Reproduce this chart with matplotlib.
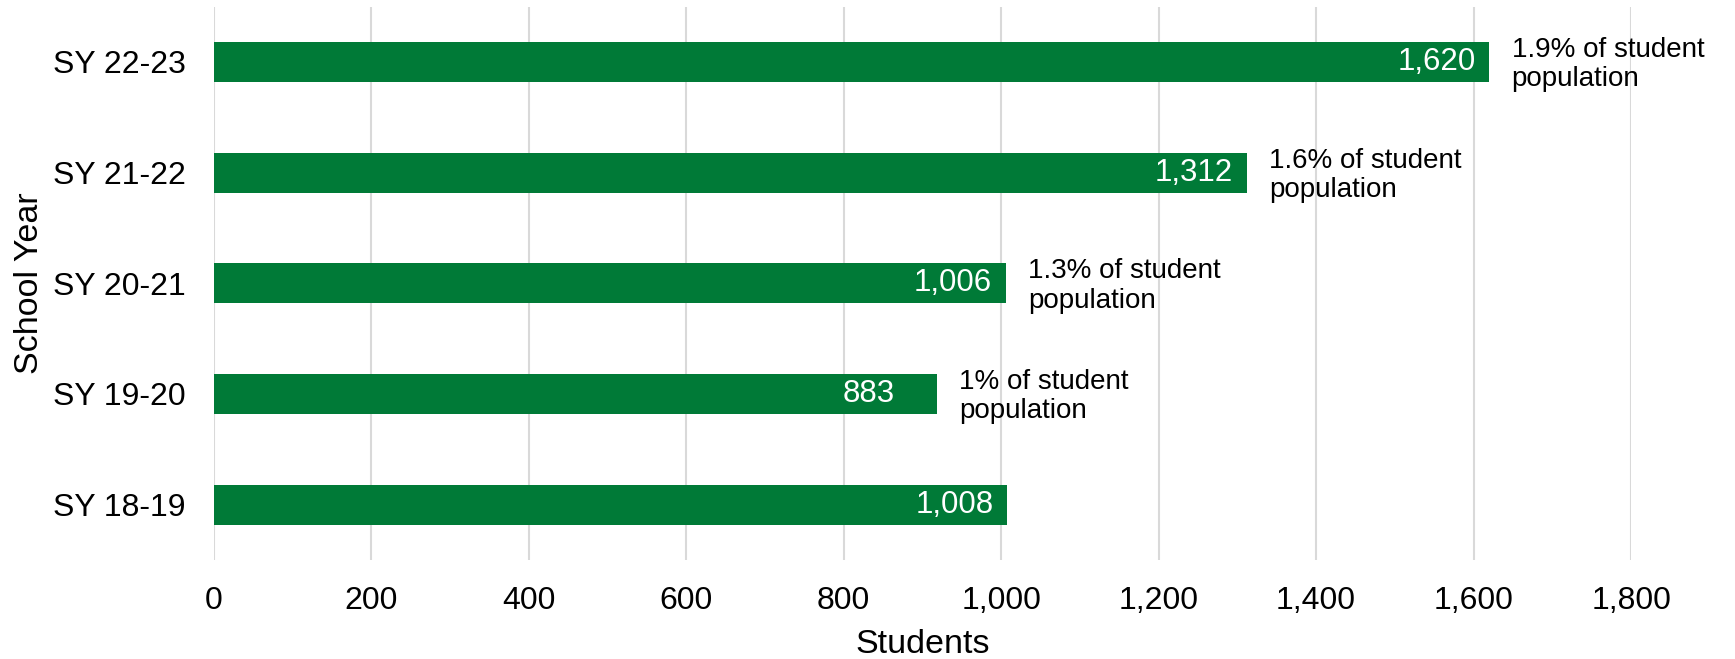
import matplotlib
matplotlib.use("Agg")
import matplotlib.pyplot as plt
from matplotlib.ticker import FuncFormatter

# Data (bottom to top)
school_years = ["SY 18-19", "SY 19-20", "SY 20-21", "SY 21-22", "SY 22-23"]
bar_lengths = [1008, 918, 1006, 1312, 1620]      # bar extents as drawn in the reference
label_values = [1008, 883, 1006, 1312, 1620]     # values printed on the bars
share_labels = ["", "1% of student\npopulation", "1.3% of student\npopulation",
                "1.6% of student\npopulation", "1.9% of student\npopulation"]
x_ticks = [0, 200, 400, 600, 800, 1000, 1200, 1400, 1600, 1800]

plt.rcParams['font.family'] = ['Liberation Sans', 'DejaVu Sans']

GREEN = "#007A37"
GRID = "#D9D9D9"

fig = plt.figure(figsize=(17.35, 6.59), dpi=100)
ax = fig.add_axes([0.1231, 0.1502, 0.8170, 0.8398])

ypos = list(range(len(school_years)))
ax.barh(ypos, bar_lengths, height=0.36, color=GREEN, zorder=2)

for y, v, lab in zip(ypos, label_values, label_values):
    ax.annotate(f"{lab:,}", xy=(v, y), xytext=(-10, 0), textcoords="offset points",
                ha="right", va="center", color="white", fontsize=22.5, zorder=3)

for y, L, s in zip(ypos, bar_lengths, share_labels):
    if s:
        ax.annotate(s, xy=(L, y), xytext=(16, -2), textcoords="offset points",
                    ha="left", va="center", color="black", fontsize=20,
                    linespacing=1.17, zorder=3)

ax.set_xlim(0, 1800)
ax.set_ylim(-0.5, len(school_years) - 0.5)
ax.set_xticks(x_ticks)
ax.xaxis.set_major_formatter(FuncFormatter(lambda v, p: f"{int(v):,}"))
ax.set_yticks(ypos)
ax.set_yticklabels(school_years)

ax.grid(axis="x", color=GRID, linewidth=1.5, zorder=0)
ax.grid(axis="y", visible=False)
ax.set_axisbelow(True)
for sp in ax.spines.values():
    sp.set_visible(False)
ax.tick_params(axis="both", length=0, labelsize=23)
ax.tick_params(axis="x", pad=19)
ax.tick_params(axis="y", pad=20)

ax.set_xlabel("Students", fontsize=24.5, labelpad=9)
ax.set_ylabel("School Year", fontsize=24.5, labelpad=6)

fig.savefig("out.png", dpi=100)
